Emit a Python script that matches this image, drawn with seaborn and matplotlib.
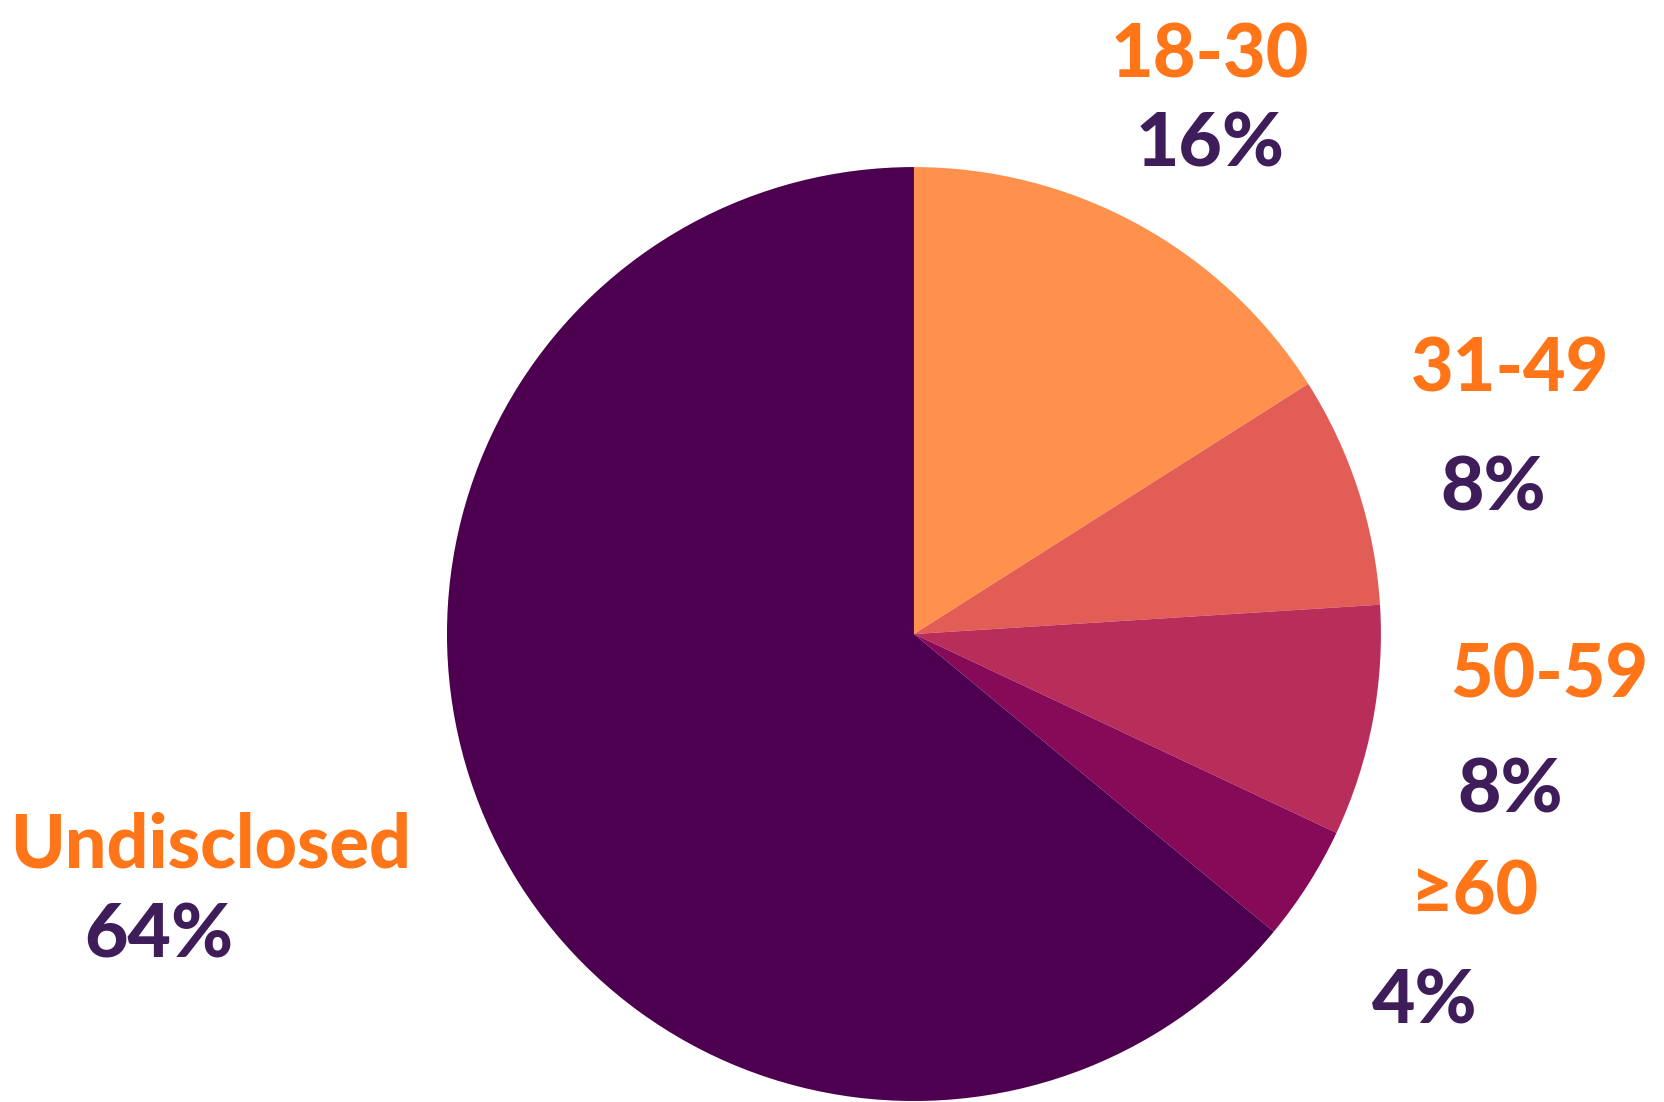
import matplotlib
matplotlib.use("Agg")
import seaborn as sns
import matplotlib.pyplot as plt

# age groups and their share of respondents
groups = ["18-30", "31-49", "50-59", "\u226560", "Undisclosed"]
shares = [16, 8, 8, 4, 64]
slice_colors = ["#FF914D", "#E35D57", "#B92D5A", "#870A59", "#4C004F"]

# label baselines (name, percent) in pie units
label_pos = [
    ((0.634, 1.192), (0.634, 1.001)),
    ((1.276, 0.519), (1.240, 0.265)),
    ((1.360, -0.135), (1.276, -0.383)),
    ((1.201, -0.601), (1.094, -0.835)),
    ((-1.507, -0.499), (-1.617, -0.692)),
]

sns.set_theme(style="white")
plt.rcParams["font.family"] = ["Lato", "DejaVu Sans"]

fig = plt.figure(figsize=(16.64, 11.02), dpi=100)
ax = fig.add_axes([0.2686, 0.0009, 0.5613, 0.8475])
ax.pie(shares, colors=slice_colors, startangle=90, counterclock=False,
       radius=1, wedgeprops=dict(linewidth=0))
ax.set_xlim(-1, 1)
ax.set_ylim(-1, 1)
ax.set_aspect("equal")
ax.axis("off")

for g, s, (p1, p2) in zip(groups, shares, label_pos):
    ax.text(p1[0], p1[1], g, ha="center", va="baseline", fontsize=53,
            fontweight="black", color="#FF7518")
    ax.text(p2[0], p2[1], f"{s}%", ha="center", va="baseline", fontsize=54,
            fontweight="black", color="#3F1D5A")

fig.savefig("out.png", dpi=100, facecolor="white")
